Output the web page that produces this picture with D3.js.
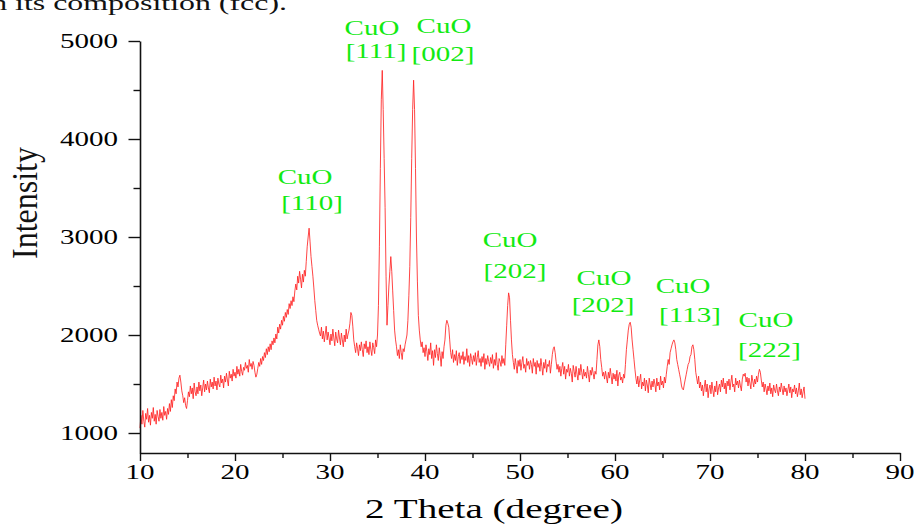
<!DOCTYPE html>
<html>
<head>
<meta charset="utf-8">
<script src="https://cdn.jsdelivr.net/npm/d3@7/dist/d3.min.js"></script>
<style>
  html, body { margin: 0; padding: 0; background: #fff; }
  svg { display: block; }
</style>
</head>
<body>
<svg id="chart" width="916" height="525"></svg>
<script>
// XRD scan of the CuO sample: 2θ from 10° to 80° in 0.1° steps.
const scanStart = 10;
const scanStep = 0.1;

// Intensity (counts), one row per degree, 10 readings per row.
const intensity10to30 = [
  1050,1180,1090,1230,1120,1060,1200,1140,1250,1110,
  1180,1080,1210,1150,1260,1120,1190,1090,1230,1170,
  1120,1240,1150,1210,1130,1270,1180,1220,1140,1250,
  1190,1300,1220,1340,1260,1380,1330,1450,1400,1520,
  1470,1560,1590,1520,1430,1380,1310,1360,1280,1250,
  1330,1420,1370,1480,1400,1460,1350,1510,1420,1380,
  1470,1400,1520,1430,1490,1380,1460,1540,1420,1500,
  1440,1530,1460,1410,1550,1470,1520,1450,1570,1480,
  1530,1440,1560,1500,1470,1590,1510,1550,1460,1580,
  1520,1610,1540,1480,1630,1560,1600,1530,1650,1580,
  1620,1560,1680,1600,1650,1580,1700,1630,1590,1670,
  1640,1720,1660,1690,1620,1750,1680,1710,1650,1730,
  1690,1620,1570,1600,1660,1720,1680,1760,1700,1780,
  1740,1820,1770,1860,1800,1880,1830,1910,1850,1940,
  1900,1970,1920,2010,1960,2080,2020,2110,2060,2150,
  2100,2190,2140,2230,2180,2260,2210,2320,2270,2350,
  2300,2390,2340,2450,2520,2460,2600,2530,2650,2570,
  2480,2620,2540,2660,2600,2750,2900,3000,3090,2950,
  2800,2700,2600,2480,2350,2250,2150,2100,2060,2020,
  1990,2080,1960,2040,1930,2010,2090,1950,2030,1970
];
const intensity30to50 = [
  1900,2010,1940,2060,1970,1890,2030,1960,1920,2050,
  1970,1900,2020,1950,1880,2000,1930,2060,1960,2010,
  2050,2120,2230,2200,2090,1950,1880,1820,1920,1860,
  1790,1900,1840,1930,1850,1780,1910,1860,1940,1820,
  1880,1800,1930,1850,1790,1920,1870,1810,1950,1880,
  2000,2300,2900,3700,4400,4700,4300,3800,3300,2600,
  2100,2300,2500,2650,2800,2650,2450,2250,2050,1950,
  1880,1790,1850,1760,1900,1820,1750,1860,1830,1900,
  1950,2000,2150,2400,2700,3200,3800,4300,4600,4300,
  3700,3000,2550,2200,2050,1950,1880,1930,1820,1870,
  1780,1900,1830,1740,1860,1800,1920,1760,1840,1690,
  1850,1770,1900,1810,1740,1870,1790,1680,1830,1760,
  1880,1950,2100,2150,2120,2080,1950,1820,1760,1850,
  1720,1800,1740,1840,1690,1780,1820,1710,1790,1750,
  1830,1700,1780,1740,1860,1720,1790,1680,1810,1760,
  1700,1790,1730,1820,1690,1770,1840,1720,1760,1680,
  1780,1720,1810,1650,1760,1700,1790,1730,1680,1770,
  1710,1800,1660,1750,1690,1820,1700,1640,1760,1730,
  1680,1790,1710,1760,1690,1900,2100,2300,2430,2380,
  2150,1950,1800,1720,1650,1760,1690,1610,1740,1680
];
const intensity50to70 = [
  1750,1640,1720,1780,1660,1700,1620,1760,1690,1730,
  1650,1740,1700,1610,1760,1680,1720,1600,1740,1670,
  1710,1630,1760,1680,1590,1720,1660,1750,1620,1700,
  1680,1740,1610,1700,1800,1860,1880,1820,1730,1650,
  1700,1620,1680,1580,1660,1720,1600,1680,1550,1650,
  1620,1700,1580,1660,1610,1520,1690,1630,1570,1680,
  1600,1540,1660,1590,1700,1620,1550,1650,1580,1620,
  1560,1680,1600,1520,1640,1590,1670,1610,1550,1630,
  1600,1750,1900,1950,1880,1750,1670,1580,1620,1550,
  1630,1570,1510,1620,1560,1660,1580,1500,1610,1550,
  1600,1530,1640,1480,1590,1620,1540,1570,1510,1600,
  1560,1700,1850,1950,2050,2110,2130,2080,1950,1850,
  1750,1650,1560,1500,1580,1470,1540,1600,1450,1520,
  1480,1560,1430,1540,1490,1410,1560,1500,1440,1530,
  1470,1550,1500,1420,1560,1480,1520,1440,1580,1490,
  1530,1460,1570,1510,1600,1680,1750,1700,1820,1860,
  1900,1930,1950,1920,1850,1750,1700,1650,1600,1550,
  1480,1450,1440,1500,1550,1600,1650,1700,1720,1780,
  1800,1880,1900,1850,1750,1620,1560,1500,1580,1460,
  1520,1430,1490,1380,1470,1540,1420,1500,1360,1450
];
const intensity70to80 = [
  1490,1400,1520,1440,1370,1480,1420,1530,1390,1460,
  1500,1420,1540,1470,1560,1450,1510,1400,1530,1480,
  1550,1440,1520,1590,1470,1500,1420,1560,1490,1530,
  1460,1540,1480,1430,1550,1600,1580,1610,1520,1570,
  1480,1560,1510,1450,1590,1530,1470,1550,1500,1580,
  1520,1600,1650,1620,1540,1470,1520,1420,1500,1450,
  1390,1480,1430,1510,1400,1460,1370,1490,1440,1410,
  1500,1430,1380,1470,1420,1510,1450,1390,1480,1420,
  1460,1380,1440,1500,1410,1470,1360,1450,1420,1490,
  1400,1460,1370,1430,1510,1390,1450,1360,1420,1470,
  1350
];

// Axis ticks
const xMajorTicks = [10, 20, 30, 40, 50, 60, 70, 80, 90];
const xMinorTicks = [15, 25, 35, 45, 55, 65, 75, 85];
const yMajorTicks = [1000, 2000, 3000, 4000, 5000];
const yMinorTicks = [1500, 2500, 3500, 4500];

// Peak assignments
const phaseNames = ["CuO", "CuO", "CuO", "CuO", "CuO", "CuO", "CuO"];
const hklIndices = ["[110]", "[111]", "[002]", "[202]", "[202]", "[113]", "[222]"];

// Annotation placement in data units: [2θ, intensity] for each text line
const phaseSpots = [[27.37, 3541], [34.42, 5061], [42.0, 5082], [48.95, 2898], [58.84, 2510], [67.16, 2429], [75.89, 2082]];
const hklSpots   = [[28.11, 3276], [34.84, 4827], [41.89, 4796], [49.47, 2582], [58.74, 2235], [67.89, 2133], [76.26, 1776]];

// ---------------------------------------------------------------
const intensity = [].concat(intensity10to30, intensity30to50, intensity50to70, intensity70to80);
const scan = intensity.map((v, i) => ({ theta: scanStart + i * scanStep, counts: v }));

const svg = d3.select("#chart");
const serif = "'Liberation Serif', 'Times New Roman', Times, serif";
const stretch = 1.45;   // glyphs are drawn wider than tall

const x = d3.scaleLinear().domain([10, 90]).range([140, 900]);
const y = d3.scaleLinear().domain([796, 5000]).range([453, 41]);

function wideText(parent, px, py, str, opts) {
  const sx = opts.sx == null ? stretch : opts.sx;
  return parent.append("text")
    .attr("transform", `translate(${px},${py}) scale(${sx},1)`)
    .attr("text-anchor", opts.anchor || "middle")
    .attr("dy", opts.dy || null)
    .style("font-family", serif)
    .style("font-size", opts.size + "px")
    .style("fill", opts.fill || "#000")
    .text(str);
}

// Running text above the figure (clipped by the top edge)
wideText(svg, 287, 10, "in its composition (fcc).", { size: 22, anchor: "end", fill: "#111" });

// Scan trace
const line = d3.line().x(d => x(d.theta)).y(d => y(d.counts));
svg.append("path")
  .datum(scan)
  .attr("d", line)
  .attr("fill", "none")
  .attr("stroke", "#ff2424")
  .attr("stroke-width", 0.85)
  .attr("stroke-linejoin", "round");

// Axes
function styleAxis(g) {
  g.select(".domain").attr("stroke", "#111").attr("stroke-width", 1.6);
  g.selectAll(".tick line").attr("stroke", "#111").attr("stroke-width", 1.4);
}

svg.append("g")
  .attr("transform", `translate(0,${y.range()[0]})`)
  .call(d3.axisBottom(x).tickValues(xMajorTicks).tickSize(8).tickSizeOuter(0).tickFormat(""))
  .call(styleAxis);
svg.append("g")
  .attr("transform", `translate(0,${y.range()[0]})`)
  .call(d3.axisBottom(x).tickValues(xMinorTicks).tickSize(5).tickSizeOuter(0).tickFormat(""))
  .call(g => g.select(".domain").remove())
  .call(styleAxis);

svg.append("g")
  .attr("transform", `translate(${x.range()[0]},0)`)
  .call(d3.axisLeft(y).tickValues(yMajorTicks).tickSize(11.5).tickSizeOuter(0).tickFormat(""))
  .call(styleAxis);
svg.append("g")
  .attr("transform", `translate(${x.range()[0]},0)`)
  .call(d3.axisLeft(y).tickValues(yMinorTicks).tickSize(6.5).tickSizeOuter(0).tickFormat(""))
  .call(g => g.select(".domain").remove())
  .call(styleAxis);

// Tick labels
const tickLabels = svg.append("g");
xMajorTicks.forEach(t => wideText(tickLabels, x(t), 479, String(t), { size: 20 }));
yMajorTicks.forEach(t => wideText(tickLabels, 118, y(t), String(t), { size: 20, anchor: "end", dy: "0.34em" }));

// Axis titles
wideText(svg, 494, 518, "2 Theta (degree)", { size: 27 });
svg.append("text")
  .attr("transform", "translate(37,203) scale(1.13,1) rotate(-90)")
  .attr("text-anchor", "middle")
  .style("font-family", serif)
  .style("font-size", "32px")
  .style("fill", "#111")
  .text("Intensity");

// Peak labels
const notes = svg.append("g");
hklIndices.forEach((hkl, i) => {
  wideText(notes, x(phaseSpots[i][0]), y(phaseSpots[i][1]), phaseNames[i], { size: 20, fill: "#12ea12" });
  wideText(notes, x(hklSpots[i][0]), y(hklSpots[i][1]), hkl, { size: 20, fill: "#12ea12" });
});
</script>
</body>
</html>
